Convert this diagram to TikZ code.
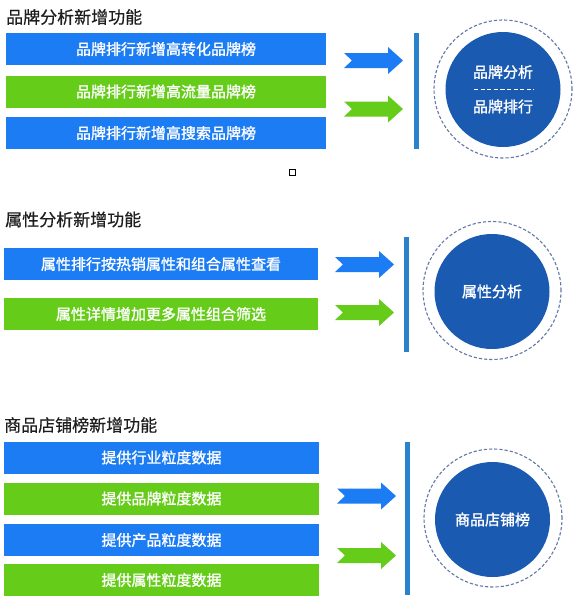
\documentclass[tikz,border=0pt]{standalone}
\usepackage{fontspec}
\setmainfont{Noto Sans CJK SC}
\newfontfamily\cjk[FakeBold=0.5]{Noto Sans CJK SC}
\newfontfamily\cjkw[FakeBold=1.4]{Noto Sans CJK SC}
\definecolor{barblue}{RGB}{28,124,244}
\definecolor{bargreen}{RGB}{102,204,26}
\definecolor{circblue}{RGB}{26,90,176}
\definecolor{linblue}{RGB}{42,130,205}
\definecolor{dashgray}{RGB}{100,120,165}
\definecolor{titlec}{RGB}{30,30,30}
\tikzset{
  x=1pt, y=-1pt,
  bar/.style={rectangle, inner sep=0pt, minimum height=32pt, text=white, font=\cjkw\fontsize{15}{16}\selectfont},
  bluebar/.style={bar, fill=barblue},
  greenbar/.style={bar, fill=bargreen},
  title/.style={anchor=west, inner sep=0pt, text=titlec, font=\cjk\fontsize{17}{18}\selectfont},
  vbar/.style={rectangle, inner sep=0pt, minimum width=5pt, fill=linblue},
  disc/.style={circle, inner sep=0pt, minimum size=115pt, fill=circblue, text=white, font=\cjkw\fontsize{15}{16}\selectfont},
  ring/.style={circle, inner sep=0pt, minimum size=138pt, draw=dashgray, dash pattern=on 3.2pt off 2pt, line width=1.1pt},
  circtext/.style={inner sep=0pt, text=white, font=\cjkw\fontsize{15}{16}\selectfont},
  pics/fatarrow/.style={code={
    \fill[#1] (0,-7.5) -- (44,-7.5) -- (44,-13.5) -- (59,0) -- (44,13.5) -- (44,7.5) -- (0,7.5) -- (8,0) -- cycle;
  }}
}
\begin{document}
\begin{tikzpicture}
\useasboundingbox (0,0) rectangle (581,603);
\fill[white] (0,0) rectangle (581,603);

% ---------- Section 1 ----------
\node[title] (t1) at (6,17) {品牌分析新增功能};
\node[bluebar, minimum width=320pt] (a1) at (166,49) {品牌排行新增高转化品牌榜};
\node[greenbar, minimum width=320pt] (a2) at (166,91.5) {品牌排行新增高流量品牌榜};
\node[bluebar, minimum width=320pt] (a3) at (166,133) {品牌排行新增高搜索品牌榜};
\pic at (344,60.5) {fatarrow=barblue};
\pic at (344,109) {fatarrow=bargreen};
\node[vbar, minimum height=116pt] (v1) at (416,91) {};
\node[ring] (r1) at (503,89) {};
\node[disc] (c1) at (503,89.5) {};
\node[circtext] (c1a) at (503,72) {品牌分析};
\node[circtext] (c1b) at (503,106.5) {品牌排行};
\draw[white, line width=1.4pt, dash pattern=on 4.2pt off 2.4pt] (474,89.5) -- (534,89.5);
\node[draw=black, line width=0.9pt, inner sep=0pt, minimum size=6.5pt] (sq) at (292.5,172.5) {};

% ---------- Section 2 ----------
\node[title] (t2) at (5,219.5) {属性分析新增功能};
\node[bluebar, minimum width=314pt] (p1) at (161,264) {属性排行按热销属性和组合属性查看};
\node[greenbar, minimum width=314pt] (p2) at (161,314) {属性详情增加更多属性组合筛选};
\pic at (335,264.5) {fatarrow=barblue};
\pic at (335,312.5) {fatarrow=bargreen};
\node[vbar, minimum height=115pt] (v2) at (406.5,294.5) {};
\node[ring] (r2) at (492,290.5) {};
\node[disc] (c2) at (492,291.5) {属性分析};

% ---------- Section 3 ----------
\node[title] (t3) at (4,425) {商品店铺榜新增功能};
\node[bluebar, minimum width=315pt] (s1) at (161.5,457.5) {提供行业粒度数据};
\node[greenbar, minimum width=315pt] (s2) at (161.5,498.5) {提供品牌粒度数据};
\node[bluebar, minimum width=315pt] (s3) at (161.5,540) {提供产品粒度数据};
\node[greenbar, minimum width=315pt] (s4) at (161.5,580) {提供属性粒度数据};
\pic at (337,496) {fatarrow=barblue};
\pic at (337,555.5) {fatarrow=bargreen};
\node[vbar, minimum height=153pt] (v3) at (407.5,518.5) {};
\node[ring] (r3) at (493,518) {};
\node[disc] (c3) at (492.5,519.5) {商品店铺榜};
\end{tikzpicture}
\end{document}
